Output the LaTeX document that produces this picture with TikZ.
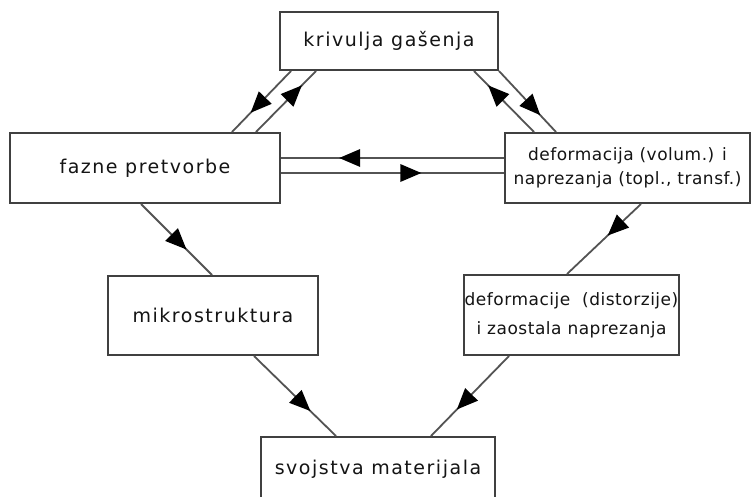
\documentclass[tikz,border=0pt]{standalone}
\usepackage{fontspec}
\setmainfont{DejaVu Sans}
\newfontfamily\bigf{DejaVu Sans}[LetterSpace=8]
\newfontfamily\smallf{DejaVu Sans}[LetterSpace=3]
\usetikzlibrary{calc,decorations.markings}
\definecolor{edge}{HTML}{404040}
\definecolor{txt}{HTML}{141414}
\tikzset{
  box/.style={draw=edge, line width=2pt, fill=white, inner sep=0pt, align=center, text=txt},
  conn/.style={draw=edge!90, line width=1.8pt},
  arrowat/.style={postaction={decorate}, decoration={markings,
     mark=at position #1 with {\fill[black] (2pt,0pt) -- (-19pt,9pt) -- (-19pt,-9pt) -- cycle;}}}
}
\begin{document}
\begin{tikzpicture}[x=1pt,y=-1pt]
\clip (0,0) rectangle (753,496);
\fill[white] (0,0) rectangle (753,496);
% boxes
\node[box, minimum width=218pt, minimum height=58pt, font=\bigf\fontsize{19}{23}\selectfont] (kr) at (389,41) {krivulja gašenja};
\node[box, minimum width=270pt, minimum height=70pt, font=\bigf\fontsize{19}{23}\selectfont] (fp) at (145,168) {fazne pretvorbe};
\node[box, minimum width=245pt, minimum height=70pt, font=\smallf\fontsize{17}{24}\selectfont] (dv) at (627.5,168) {deformacija (volum.) i\\naprezanja (topl., transf.)};
\node[box, minimum width=210pt, minimum height=79pt, font=\bigf\fontsize{19}{23}\selectfont] (mk) at (213,315.5) {mikrostruktura};
\node[box, minimum width=215pt, minimum height=80pt, font=\smallf\fontsize{17}{29}\selectfont] (dd) at (571.5,315) {deformacije\ \ (distorzije)\\i zaostala naprezanja};
\node[box, minimum width=234pt, minimum height=64pt, font=\bigf\fontsize{19}{23}\selectfont] (sm) at (378,469) {svojstva materijala};
% anchor points of connectors
\coordinate (kA) at ($(kr.south west)+(12,0)$);
\coordinate (kB) at ($(kr.south west)+(37,0)$);
\coordinate (kC) at ($(kr.south east)+(-25,0)$);
\coordinate (kD) at (kr.south east);
\coordinate (fA) at ($(fp.north west)+(223,0)$);
\coordinate (fB) at ($(fp.north west)+(247,0)$);
\coordinate (dC) at ($(dv.north west)+(30,0)$);
\coordinate (dD) at ($(dv.north west)+(52,0)$);
\coordinate (fU) at ($(fp.east)+(0,-10)$);
\coordinate (fL) at ($(fp.east)+(0,5)$);
\coordinate (dU) at ($(dv.west)+(0,-10)$);
\coordinate (dL) at ($(dv.west)+(0,5)$);
\coordinate (fS) at ($(fp.south west)+(132,0)$);
\coordinate (mN) at ($(mk.north west)+(105,0)$);
\coordinate (dS) at ($(dv.south west)+(137,0)$);
\coordinate (ddN) at ($(dd.north west)+(104,0)$);
\coordinate (mS) at ($(mk.south west)+(147,0)$);
\coordinate (ddS) at ($(dd.south west)+(46,0)$);
\coordinate (sL) at ($(sm.north west)+(76,0)$);
\coordinate (sR) at ($(sm.north west)+(171,0)$);
% connectors
\draw[conn, arrowat=0.66] (kA) -- (fA);
\draw[conn, arrowat=0.74] (fB) -- (kB);
\draw[conn, arrowat=0.74] (dC) -- (kC);
\draw[conn, arrowat=0.70] (kD) -- (dD);
\draw[conn, arrowat=0.73] (dU) -- (fU);
\draw[conn, arrowat=0.62] (fL) -- (dL);
\draw[conn, arrowat=0.62] (fS) -- (mN);
\draw[conn, arrowat=0.43] (dS) -- (ddN);
\draw[conn, arrowat=0.67] (mS) -- (sL);
\draw[conn, arrowat=0.65] (ddS) -- (sR);
\end{tikzpicture}
\end{document}
